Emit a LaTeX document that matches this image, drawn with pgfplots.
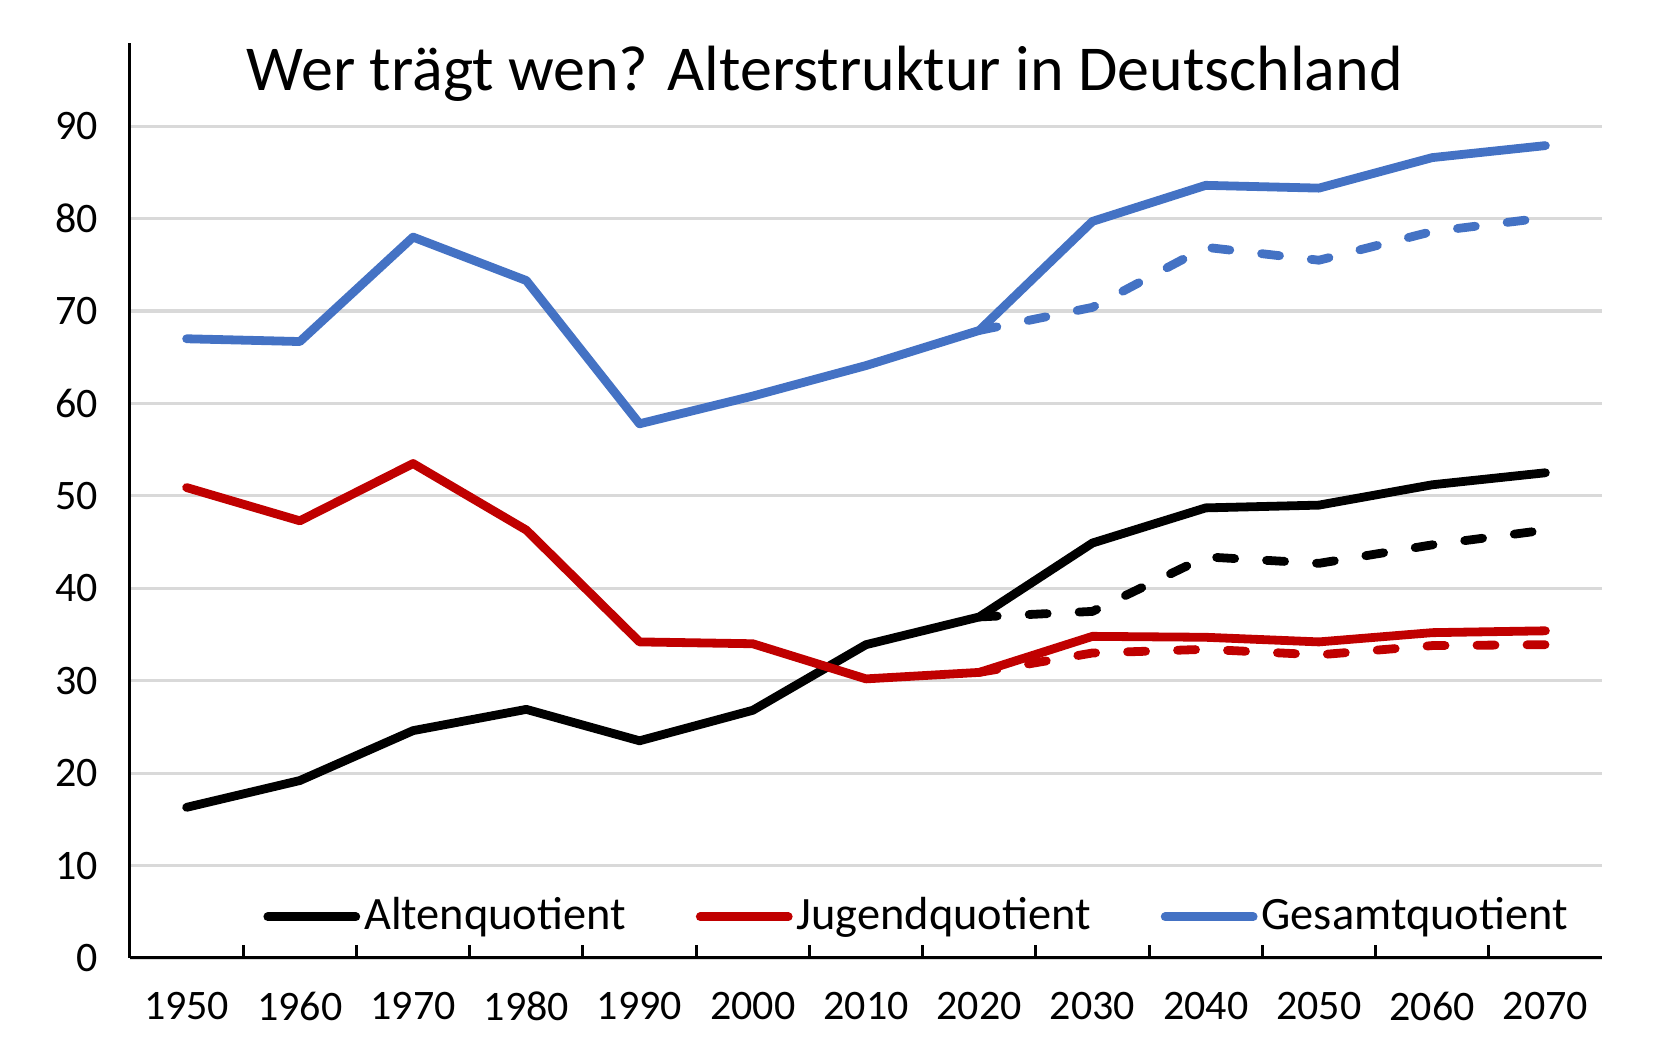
\documentclass[border=0pt]{standalone}
\usepackage{pgfplots}
\pgfplotsset{compat=1.18}
\usepackage{fontspec}
\setmainfont{Carlito}

\definecolor{xblue}{HTML}{4472C4}
\definecolor{xred}{HTML}{C00000}
\definecolor{xgrid}{HTML}{D9D9D9}

\begin{document}
\begin{tikzpicture}
\path[use as bounding box] (-32.5pt,-21.75pt) rectangle (382.25pt,239.5pt);
\begin{axis}[
	at={(0,0)}, anchor=south west,
	scale only axis,
	width=368pt, height=228.75pt,
	xmin=1945, xmax=2075,
	ymin=0, ymax=99,
	axis x line*=bottom,
	axis y line*=left,
	axis line style={black, line width=0.75pt},
	xtick={1950,1960,...,2070},
	minor xtick={1955,1965,...,2065},
	ytick={0,10,...,90},
	major tick length=0pt,
	minor tick length=3.3pt,
	tick align=inside,
	minor tick style={black, line width=0.75pt},
	ymajorgrids,
	major grid style={xgrid, line width=0.8pt},
	tick label style={font=\fontsize{10.5}{12}\selectfont},
	/pgf/number format/1000 sep={},
	/pgf/number format/assume math mode=true,
	xticklabel style={yshift=-5pt},
	yticklabel style={xshift=-4.5pt},
	legend style={draw=none, fill=none, legend columns=3,
		at={(0.535,0.045)}, anchor=center,
		font=\fontsize{11.6}{14}\selectfont,
		nodes={inner xsep=1pt},
		/tikz/every even column/.style={column sep=16.5pt}},
	legend image code/.code={\draw[#1] (0pt,0pt) -- (22pt,0pt);},
	every axis plot/.append style={line width=2.2pt, line cap=round, line join=round},
]
% Altenquotient
\addplot[black] coordinates {
	(1950,16.3) (1960,19.2) (1970,24.6) (1980,26.9) (1990,23.5) (2000,26.8)
	(2010,33.9) (2020,36.9) (2030,44.9) (2040,48.7) (2050,49.0) (2060,51.2) (2070,52.5)};
% Jugendquotient
\addplot[xred] coordinates {
	(1950,50.9) (1960,47.3) (1970,53.5) (1980,46.3) (1990,34.2) (2000,34.0)
	(2010,30.2) (2020,30.9) (2030,34.8) (2040,34.7) (2050,34.2) (2060,35.2) (2070,35.4)};
% Gesamtquotient
\addplot[xblue] coordinates {
	(1950,67.0) (1960,66.7) (1970,78.0) (1980,73.3) (1990,57.8) (2000,60.8)
	(2010,64.1) (2020,67.9) (2030,79.7) (2040,83.6) (2050,83.3) (2060,86.6) (2070,87.9)};
% Varianten (gestrichelt)
\addplot[black, dash pattern=on 4.5pt off 8pt, forget plot] coordinates {
	(2020,36.9) (2030,37.5) (2040,43.4) (2050,42.7) (2060,44.7) (2070,46.3)};
\addplot[xred, dash pattern=on 4.5pt off 8pt, forget plot] coordinates {
	(2020,30.9) (2030,33.0) (2040,33.4) (2050,32.8) (2060,33.8) (2070,33.9)};
\addplot[xblue, dash pattern=on 4.5pt off 8pt, forget plot] coordinates {
	(2020,67.9) (2030,70.4) (2040,76.9) (2050,75.5) (2060,78.6) (2070,80.1)};
\legend{Altenquotient,Jugendquotient,Gesamtquotient}
\node[font=\fontsize{16}{20}\selectfont] at (rel axis cs:0.472,0.966) {Wer trägt wen? Alterstruktur in Deutschland};
\end{axis}
\end{tikzpicture}
\end{document}
